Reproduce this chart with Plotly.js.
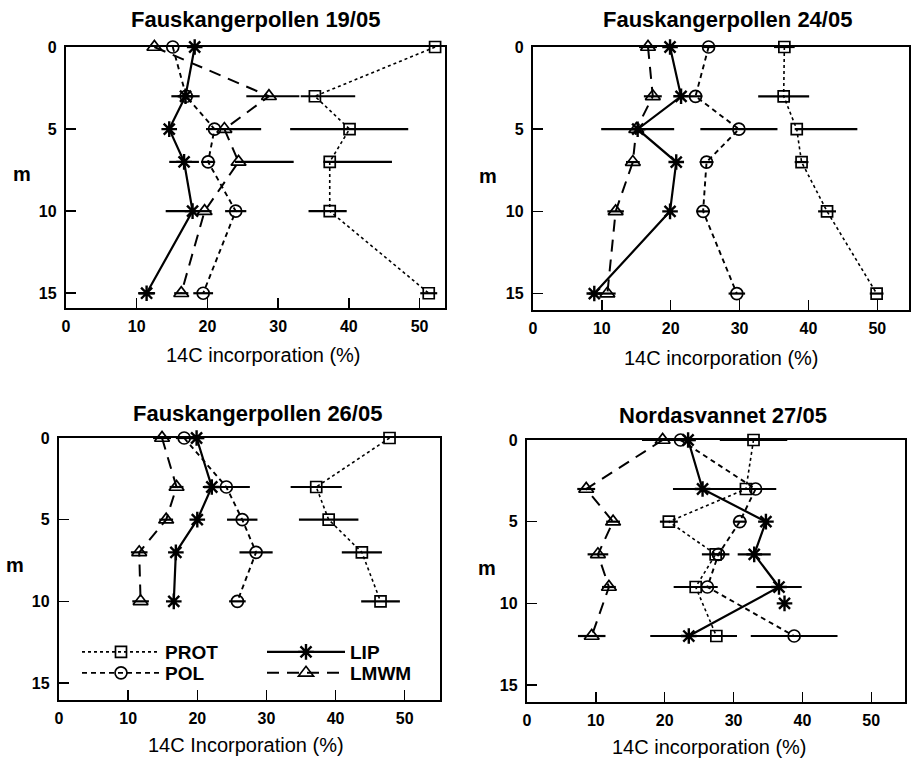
<!DOCTYPE html>
<html>
<head>
<meta charset="utf-8">
<script src="https://cdn.plot.ly/plotly-3.0.1.min.js"></script>
<style>html,body{margin:0;padding:0;background:#fff;}#chart{width:913px;height:761px;}</style>
</head>
<body>
<div id="chart"></div>
<script>
// ---------- data (depth in m, 14C incorporation in %) ----------
const depthsA = [0, 3, 5, 7, 10, 15];
const depthsC = [0, 3, 5, 7, 10];
const depthsD = [0, 3, 5, 7, 9, 12];
const depthsDLip = [0, 3, 5, 7, 9, 12, null, 10];

// Panel 1: Fauskangerpollen 19/05
const p1Prot = [52.2, 35.2, 40.1, 37.3, 37.3, 51.3];
const p1ProtErrPlus = [0, 5.7, 8.3, 8.8, 2.4, 1.2];
const p1ProtErrMinus = [0, 2.0, 8.4, 0.9, 3.0, 1.2];
const p1Pol = [15.1, 17.0, 21.0, 20.1, 24.0, 19.4];
const p1PolErr = [0, 0, 1.2, 1.0, 1.5, 1.4];
const p1Lip = [18.2, 16.9, 14.6, 16.7, 17.9, 11.4];
const p1LipErrPlus = [0, 2.0, 0, 2.1, 0.7, 1.2];
const p1LipErrMinus = [0, 2.0, 0, 2.1, 3.8, 1.2];
const p1Lmwm = [12.5, 28.7, 22.4, 24.4, 19.6, 16.3];
const p1LmwmErrPlus = [0, 4.3, 5.2, 7.8, 1.0, 1.0];
const p1LmwmErrMinus = [0, 3.2, 0.5, 0.5, 1.0, 1.0];

// Panel 2: Fauskangerpollen 24/05
const p2Prot = [36.5, 36.4, 38.3, 39.0, 42.7, 49.9];
const p2ProtErrPlus = [1.5, 3.7, 8.8, 1.0, 1.3, 1.0];
const p2ProtErrMinus = [1.5, 3.7, 0.3, 1.0, 1.3, 1.0];
const p2Pol = [25.5, 23.6, 29.9, 25.2, 24.7, 29.6];
const p2PolErr = [0.8, 1.0, 5.6, 1.0, 1.0, 1.2];
const p2Lip = [19.9, 21.5, 15.2, 20.8, 19.9, 8.9];
const p2LipErr = [0, 0, 5.3, 0, 0, 0.8];
const p2Lmwm = [16.7, 17.4, 15.0, 14.5, 12.0, 10.8];
const p2LmwmErr = [1.3, 1.3, 0, 1.0, 1.2, 1.2];

// Panel 3: Fauskangerpollen 26/05
const p3Prot = [47.8, 37.2, 39.0, 43.8, 46.5];
const p3ProtErr = [0, 3.7, 4.3, 2.9, 2.8];
const p3Pol = [18.1, 24.2, 26.5, 28.5, 25.8];
const p3PolErr = [1.2, 3.4, 2.2, 2.4, 1.2];
const p3Lip = [19.9, 22.1, 20.0, 16.9, 16.6];
const p3LipErr = [1.0, 0, 0, 0, 0];
const p3Lmwm = [14.9, 17.0, 15.5, 11.6, 11.8];
const p3LmwmErr = [1.3, 1.0, 1.0, 1.2, 1.2];

// Panel 4: Nordasvannet 27/05
const p4Prot = [32.9, 31.8, 20.6, 27.4, 24.5, 27.5];
const p4ProtErr = [4.9, 4.0, 1.3, 2.0, 3.2, 3.0];
const p4Pol = [22.3, 33.2, 30.9, 27.8, 26.2, 38.8];
const p4PolErr = [1.0, 3.0, 1.0, 1.0, 1.0, 6.3];
const p4Lip = [23.4, 25.5, 34.7, 33.0, 36.6, 23.5, null, 37.4];
const p4LipErr = [1.0, 4.3, 0, 2.4, 3.3, 5.6, 0, 0];
const p4Lmwm = [19.7, 8.6, 12.5, 10.3, 11.9, 9.4];
const p4LmwmErr = [3.0, 1.3, 1.0, 1.5, 1.0, 2.0];

const xTicks = [0, 10, 20, 30, 40, 50];
const yTicks = [0, 5, 10, 15];
const panelTitles = ['Fauskangerpollen 19/05', 'Fauskangerpollen 24/05', 'Fauskangerpollen 26/05', 'Nordasvannet 27/05'];
const xTitle = '14C incorporation (%)';
const xTitle3 = '14C Incorporation (%)';
const yTitle = 'm';
const seriesNames = ['PROT', 'POL', 'LIP', 'LMWM'];

// ---------- styles ----------
const FONT = 'Liberation Sans, Arial, Helvetica, sans-serif';
const W = 913, H = 761;
const styles = {
  PROT: {line: {color: '#000', width: 1.6, dash: 'dot'}, marker: {symbol: 'square-open', size: 11, color: '#000', line: {width: 1.7, color: '#000'}}},
  POL:  {line: {color: '#000', width: 1.9, dash: '5px,4px'}, marker: {symbol: 'circle-open', size: 12, color: '#000', line: {width: 1.7, color: '#000'}}},
  LIP:  {line: {color: '#000', width: 2.2, dash: 'solid'}, marker: {symbol: 'asterisk-open', size: 13, color: '#000', line: {width: 2.4, color: '#000'}}},
  LMWM: {line: {color: '#000', width: 2, dash: '12px,8px'}, marker: {symbol: 'triangle-up-open', size: 13, color: '#000', line: {width: 1.7, color: '#000'}}}
};

function errX(plus, minus) {
  return {type: 'data', symmetric: minus === undefined, array: plus, arrayminus: minus === undefined ? undefined : minus,
          color: '#000', thickness: 2.2, width: 0, visible: true};
}

function tr(name, xs, ys, k, ep, em, legendInfo) {
  const s = styles[name];
  const t = {
    type: 'scatter', mode: 'lines+markers', name: name,
    x: xs, y: ys, xaxis: 'x' + (k === 1 ? '' : k), yaxis: 'y' + (k === 1 ? '' : k),
    line: s.line, marker: s.marker, error_x: errX(ep, em), cliponaxis: false,
    showlegend: false, connectgaps: false
  };
  if (legendInfo) { t.showlegend = true; t.legend = legendInfo; }
  return t;
}

const data = [
  tr('PROT', p1Prot, depthsA, 1, p1ProtErrPlus, p1ProtErrMinus),
  tr('POL', p1Pol, depthsA, 1, p1PolErr),
  tr('LMWM', p1Lmwm, depthsA, 1, p1LmwmErrPlus, p1LmwmErrMinus),
  tr('LIP', p1Lip, depthsA, 1, p1LipErrPlus, p1LipErrMinus),

  tr('PROT', p2Prot, depthsA, 2, p2ProtErrPlus, p2ProtErrMinus),
  tr('POL', p2Pol, depthsA, 2, p2PolErr),
  tr('LMWM', p2Lmwm, depthsA, 2, p2LmwmErr),
  tr('LIP', p2Lip, depthsA, 2, p2LipErr),

  tr('PROT', p3Prot, depthsC, 3, p3ProtErr, undefined, 'legend'),
  tr('POL', p3Pol, depthsC, 3, p3PolErr, undefined, 'legend2'),
  tr('LIP', p3Lip, depthsC, 3, p3LipErr, undefined, 'legend3'),
  tr('LMWM', p3Lmwm, depthsC, 3, p3LmwmErr, undefined, 'legend4'),

  tr('PROT', p4Prot, depthsD, 4, p4ProtErr),
  tr('POL', p4Pol, depthsD, 4, p4PolErr),
  tr('LMWM', p4Lmwm, depthsD, 4, p4LmwmErr),
  tr('LIP', p4Lip, depthsDLip, 4, p4LipErr)
];

// ---------- layout ----------
function px2x(p) { return p / W; }
function px2y(p) { return 1 - p / H; }

const boxes = [
  {l: 66, r: 445, t: 47, b: 308, xmax: 53.6, ymax: 15.9},
  {l: 533, r: 909, t: 47, b: 310, xmax: 54.6, ymax: 16.0},
  {l: 59, r: 440, t: 438, b: 700, xmax: 55.1, ymax: 16.04},
  {l: 527, r: 905, t: 440, b: 702, xmax: 54.9, ymax: 16.04}
];

function legendBox(xpx, ypx) {
  return {x: px2x(xpx), y: px2y(ypx), xanchor: 'left', yanchor: 'top', bgcolor: 'rgba(0,0,0,0)',
          font: {family: FONT, size: 19, color: '#000', weight: 'bold'}, tracegroupgap: 0, itemwidth: 78};
}

const layout = {
  width: W, height: H,
  margin: {l: 0, r: 0, t: 0, b: 0, pad: 0},
  paper_bgcolor: '#fff', plot_bgcolor: '#fff',
  font: {family: FONT, color: '#000', size: 17},
  showlegend: true,
  legend: legendBox(77, 633),
  legend2: legendBox(77, 654),
  legend3: legendBox(262, 633),
  legend4: legendBox(262, 654),
  annotations: []
};

const titlePos = [[255, 19], [727, 20], [257, 413], [723, 415]];
const xTitlePos = [[263, 355], [721, 358], [246, 745], [709, 747]];
const yTitlePos = [[22, 174], [488, 176], [15, 565], [487, 568]];

boxes.forEach((b, i) => {
  const k = i + 1;
  const xa = 'xaxis' + (k === 1 ? '' : k);
  const ya = 'yaxis' + (k === 1 ? '' : k);
  layout[xa] = {
    domain: [px2x(b.l), px2x(b.r)], range: [0, b.xmax], anchor: 'y' + (k === 1 ? '' : k),
    tickmode: 'array', tickvals: xTicks, ticktext: xTicks.map(String),
    ticks: 'inside', ticklen: 10, tickwidth: 1.5, tickcolor: '#000',
    showline: true, mirror: true, linewidth: 2.2, linecolor: '#000',
    showgrid: false, zeroline: false, ticklabelstandoff: 3,
    tickfont: {family: FONT, size: 16, color: '#000', weight: 'bold'}, fixedrange: true
  };
  layout[ya] = {
    domain: [px2y(b.b), px2y(b.t)], range: [b.ymax, 0], anchor: 'x' + (k === 1 ? '' : k),
    tickmode: 'array', tickvals: yTicks, ticktext: yTicks.map(String),
    ticks: 'inside', ticklen: 10, tickwidth: 1.5, tickcolor: '#000',
    showline: true, mirror: true, linewidth: 2.2, linecolor: '#000',
    showgrid: false, zeroline: false, ticklabelstandoff: 4,
    tickfont: {family: FONT, size: 16, color: '#000', weight: 'bold'}, fixedrange: true
  };
  layout.annotations.push({text: panelTitles[i], xref: 'paper', yref: 'paper',
    x: px2x(titlePos[i][0]), y: px2y(titlePos[i][1]), xanchor: 'center', yanchor: 'middle',
    showarrow: false, font: {family: FONT, size: 22, color: '#000', weight: 'bold'}});
  layout.annotations.push({text: (k === 3 ? xTitle3 : xTitle), xref: 'paper', yref: 'paper',
    x: px2x(xTitlePos[i][0]), y: px2y(xTitlePos[i][1]), xanchor: 'center', yanchor: 'middle',
    showarrow: false, font: {family: FONT, size: 20, color: '#000'}});
  layout.annotations.push({text: yTitle, xref: 'paper', yref: 'paper',
    x: px2x(yTitlePos[i][0]), y: px2y(yTitlePos[i][1]), xanchor: 'center', yanchor: 'middle',
    showarrow: false, font: {family: FONT, size: 20, color: '#000', weight: 'bold'}});
});

Plotly.newPlot('chart', data, layout, {staticPlot: true, displayModeBar: false});
</script>
</body>
</html>
